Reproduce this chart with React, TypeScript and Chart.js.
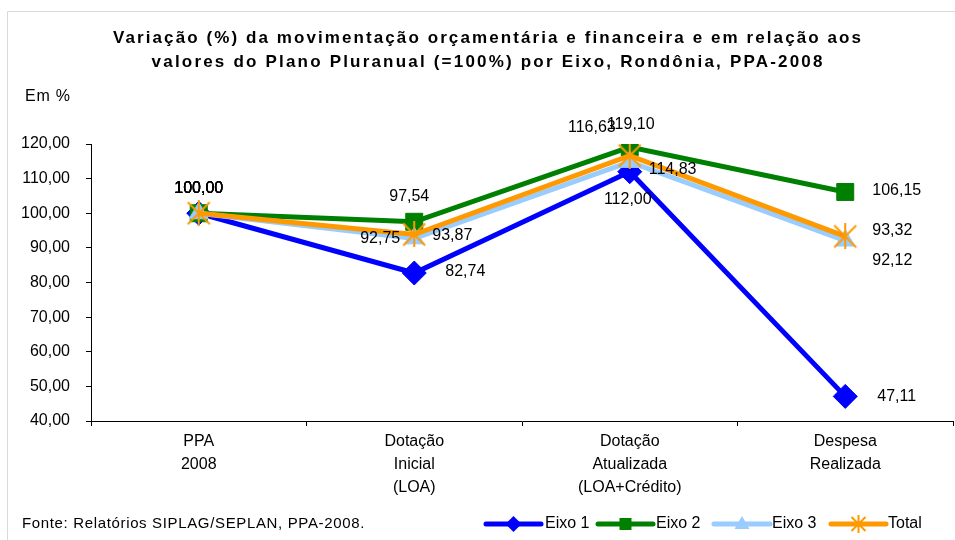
import React, { useEffect, useRef } from "react";
import { Chart, registerables } from "chart.js";

Chart.register(...registerables);

const TITLE_LINES = [
  "Variação (%) da movimentação orçamentária e financeira e em relação aos",
  "valores do Plano Pluranual (=100%) por Eixo, Rondônia, PPA-2008",
];
const Y_UNIT = "Em %";
const SOURCE = "Fonte: Relatórios SIPLAG/SEPLAN, PPA-2008.";
const CATEGORIES = [
  ["PPA", "2008"],
  ["Dotação", "Inicial", "(LOA)"],
  ["Dotação", "Atualizada", "(LOA+Crédito)"],
  ["Despesa", "Realizada"],
];
const SERIES_NAMES = ["Eixo 1", "Eixo 2", "Eixo 3", "Total"];
const EIXO1 = [100.0, 82.74, 112.0, 47.11];
const EIXO2 = [100.0, 97.54, 119.1, 106.15];
const EIXO3 = [100.0, 92.75, 114.83, 92.12];
const TOTAL = [100.0, 93.87, 116.63, 93.32];
const Y_MIN = 40;
const Y_MAX = 120;
const Y_STEP = 10;

const COLORS = ["#0000FF", "#008000", "#99CCFF", "#FF9900"];

// label placement per series/point: [dx, dy, align]
const LABEL_POS: [number, number, CanvasTextAlign][][] = [
  [[0, -25, "center"], [31, -1, "left"], [-2, 28, "center"], [32, 0, "left"]],
  [[0, -25, "center"], [-5, -25, "center"], [1, -23, "center"], [27, -1, "left"]],
  [[0, -25, "center"], [-14, 0, "right"], [19, 8, "left"], [27, 20, "left"]],
  [[0, -25, "center"], [18, 1, "left"], [-14, -28, "right"], [27, -6, "left"]],
];

const FONT = "'Liberation Sans', Arial, sans-serif";
const TITLE_FONT = "'Liberation Sans Narrow', 'Liberation Sans', Arial, sans-serif";

function makeStar(size: number, color: string, lw: number) {
  const c = document.createElement("canvas");
  c.width = size;
  c.height = size;
  const ctx = c.getContext("2d")!;
  ctx.strokeStyle = color;
  ctx.lineWidth = lw;
  const m = 2;
  ctx.beginPath();
  ctx.moveTo(m, m);
  ctx.lineTo(size - m, size - m);
  ctx.moveTo(size - m, m);
  ctx.lineTo(m, size - m);
  ctx.moveTo(size / 2, 0);
  ctx.lineTo(size / 2, size);
  ctx.stroke();
  return c;
}

function fmt(v: number) {
  return v.toFixed(2).replace(".", ",");
}

function drawSpaced(ctx: CanvasRenderingContext2D, text: string, x: number, y: number, spacing: number, align: "left" | "center") {
  (ctx as any).letterSpacing = spacing + "px";
  const w = ctx.measureText(text).width;
  ctx.textAlign = "left";
  const sx = align === "center" ? x - w / 2 + spacing / 2 : x;
  ctx.fillText(text, sx, y);
  (ctx as any).letterSpacing = "0px";
}

function fitSpacing(ctx: CanvasRenderingContext2D, text: string, target: number) {
  (ctx as any).letterSpacing = "0px";
  const w = ctx.measureText(text).width;
  return Math.max(0, (target - w) / text.length);
}

export default function App() {
  const ref = useRef<HTMLCanvasElement>(null);

  useEffect(() => {
    const canvas = ref.current!;
    const star = makeStar(26, COLORS[3], 2);
    const seriesData = [EIXO1, EIXO2, EIXO3, TOTAL];
    const pointStyles: any[] = ["rectRot", "rect", "triangle", star];
    const pointRadius = [12, 12, 11, 13];

    const decor = {
      id: "decor",
      beforeDraw(chart: any) {
        const ctx = chart.ctx as CanvasRenderingContext2D;
        ctx.save();
        ctx.fillStyle = "#fff";
        ctx.fillRect(0, 0, chart.width, chart.height);
        ctx.strokeStyle = "#d9d9d9";
        ctx.lineWidth = 1;
        ctx.beginPath();
        ctx.moveTo(7.5, 541);
        ctx.lineTo(7.5, 11.5);
        ctx.lineTo(956, 11.5);
        ctx.stroke();

        // title
        ctx.fillStyle = "#000";
        ctx.textBaseline = "middle";
        ctx.font = `bold 17px ${TITLE_FONT}`;
        const targets = [750, 673];
        const ys = [38, 62];
        TITLE_LINES.forEach((t, i) => {
          const sp = fitSpacing(ctx, t, targets[i]);
          drawSpaced(ctx, t, 487, ys[i], sp, "center");
        });

        ctx.font = `16px ${FONT}`;
        drawSpaced(ctx, Y_UNIT, 25, 97, 0.8, "left");

        ctx.font = `15px ${FONT}`;
        const sp = fitSpacing(ctx, SOURCE, 343);
        drawSpaced(ctx, SOURCE, 22, 524, sp, "left");
        ctx.restore();
      },
      afterDraw(chart: any) {
        const ctx = chart.ctx as CanvasRenderingContext2D;
        ctx.save();
        // legend
        const items = [
          { x0: 486, x1: 541, tx: 545 },
          { x0: 598, x1: 653, tx: 656 },
          { x0: 714, x1: 770, tx: 772 },
          { x0: 831, x1: 886, tx: 888 },
        ];
        const ly = 524;
        items.forEach((it, i) => {
          ctx.strokeStyle = COLORS[i];
          ctx.lineWidth = 5;
          ctx.lineCap = "round";
          ctx.beginPath();
          ctx.moveTo(it.x0, ly);
          ctx.lineTo(it.x1, ly);
          ctx.stroke();
          const cx = (it.x0 + it.x1) / 2;
          ctx.fillStyle = COLORS[i];
          ctx.beginPath();
          if (i === 0) {
            ctx.moveTo(cx, ly - 8);
            ctx.lineTo(cx + 8, ly);
            ctx.lineTo(cx, ly + 8);
            ctx.lineTo(cx - 8, ly);
            ctx.closePath();
            ctx.fill();
          } else if (i === 1) {
            ctx.fillRect(cx - 6, ly - 6, 12, 12);
          } else if (i === 2) {
            ctx.moveTo(cx, ly - 8);
            ctx.lineTo(cx + 7.5, ly + 5);
            ctx.lineTo(cx - 7.5, ly + 5);
            ctx.closePath();
            ctx.fill();
          } else {
            ctx.lineWidth = 2;
            ctx.lineCap = "butt";
            ctx.beginPath();
            ctx.moveTo(cx - 7, ly - 7);
            ctx.lineTo(cx + 7, ly + 7);
            ctx.moveTo(cx + 7, ly - 7);
            ctx.lineTo(cx - 7, ly + 7);
            ctx.moveTo(cx, ly - 9);
            ctx.lineTo(cx, ly + 9);
            ctx.stroke();
          }
          ctx.fillStyle = "#000";
          ctx.font = `16px ${FONT}`;
          ctx.textBaseline = "middle";
          ctx.textAlign = "left";
          ctx.fillText(SERIES_NAMES[i], it.tx, ly);
        });
        ctx.restore();
      },
      afterDatasetsDraw(chart: any) {
        const ctx = chart.ctx as CanvasRenderingContext2D;
        ctx.save();
        ctx.fillStyle = "#000";
        ctx.font = `16px ${FONT}`;
        ctx.textBaseline = "middle";
        chart.data.datasets.forEach((ds: any, di: number) => {
          const meta = chart.getDatasetMeta(di);
          meta.data.forEach((pt: any, pi: number) => {
            const [dx, dy, align] = LABEL_POS[di][pi];
            ctx.textAlign = align;
            ctx.fillText(fmt(ds.data[pi]), pt.x + dx, pt.y + dy);
          });
        });
        ctx.restore();
      },
    };

    const chart = new Chart(canvas, {
      type: "line",
      data: {
        labels: CATEGORIES as any,
        datasets: seriesData.map((d, i) => ({
          label: SERIES_NAMES[i],
          data: d,
          borderColor: COLORS[i],
          backgroundColor: COLORS[i],
          borderWidth: 5,
          pointStyle: pointStyles[i],
          pointRadius: pointRadius[i],
          pointBorderWidth: 1,
          pointBackgroundColor: COLORS[i],
          pointBorderColor: COLORS[i],
          tension: 0,
          order: 4 - i,
        })),
      },
      options: {
        responsive: false,
        animation: false,
        events: [],
        layout: { autoPadding: false, padding: { top: 144, left: 0, right: 2, bottom: 0 } },
        plugins: {
          legend: { display: false },
          tooltip: { enabled: false },
          title: { display: false },
        },
        scales: {
          x: {
            type: "category",
            offset: true,
            grid: {
              offset: true,
              drawOnChartArea: false,
              drawTicks: true,
              tickLength: 5,
              color: "#000",
            },
            border: { color: "#000", width: 1 },
            ticks: {
              color: "#000",
              font: { family: FONT, size: 16, lineHeight: 1.45 },
              padding: 4,
              maxRotation: 0,
              autoSkip: false,
            },
            afterFit(scale: any) {
              scale.height = 119;
            },
          },
          y: {
            min: Y_MIN,
            max: Y_MAX,
            grid: {
              drawOnChartArea: false,
              drawTicks: true,
              tickLength: 5,
              color: "#000",
            },
            border: { color: "#000", width: 1 },
            ticks: {
              stepSize: Y_STEP,
              color: "#000",
              font: { family: FONT, size: 16 },
              padding: 16,
              callback: (v: any) => fmt(Number(v)),
            },
            afterFit(scale: any) {
              scale.width = 91;
            },
          },
        },
      },
      plugins: [decor],
    });
    return () => chart.destroy();
  }, []);

  return (
    <div style={{ position: "absolute", left: 0, top: 0, width: 955, height: 540 }}>
      <canvas ref={ref} width={955} height={540} style={{ width: 955, height: 540, display: "block" }} />
    </div>
  );
}
